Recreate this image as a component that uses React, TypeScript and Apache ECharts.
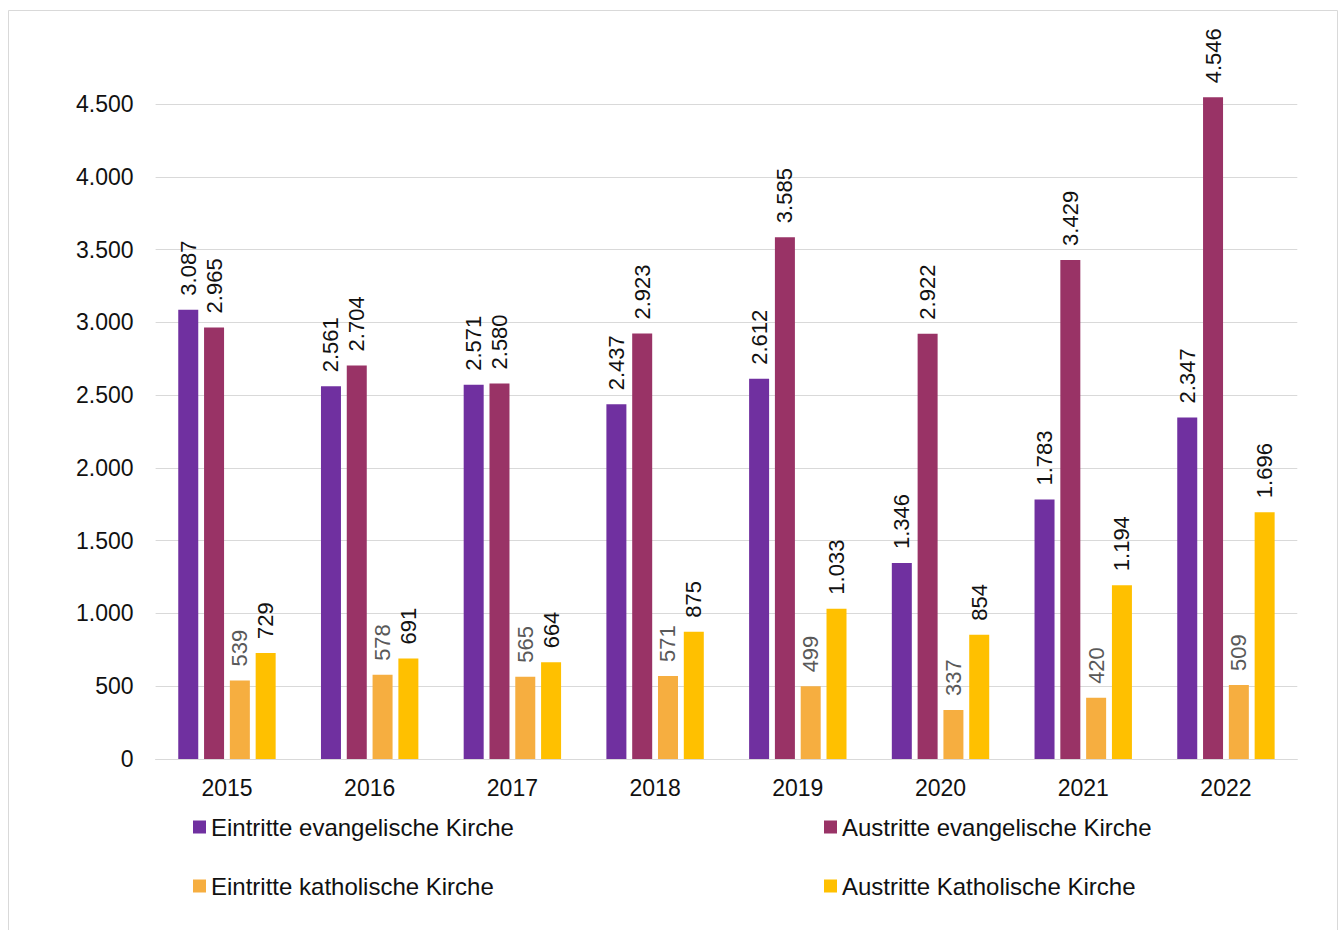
import React, { useEffect, useRef } from "react";
import * as echarts from "echarts";

// Kircheneintritte und -austritte nach Jahr
const years = ["2015", "2016", "2017", "2018", "2019", "2020", "2021", "2022"];
const eintritteEv = [3087, 2561, 2571, 2437, 2612, 1346, 1783, 2347];
const austritteEv = [2965, 2704, 2580, 2923, 3585, 2922, 3429, 4546];
const eintritteKath = [539, 578, 565, 571, 499, 337, 420, 509];
const austritteKath = [729, 691, 664, 875, 1033, 854, 1194, 1696];

const seriesNames = [
  "Eintritte evangelische Kirche",
  "Austritte evangelische Kirche",
  "Eintritte katholische Kirche",
  "Austritte Katholische Kirche",
];
const seriesColors = ["#7030A0", "#993366", "#F6AE40", "#FFC000"];
const labelColors = ["#111111", "#111111", "#595959", "#111111"];

const FONT = "'Liberation Sans', Arial, Helvetica, sans-serif";

// Tausendertrennzeichen mit Punkt
const fmt = (v: number) => {
  const s = Math.round(v).toString();
  return s.replace(/\B(?=(\d{3})+(?!\d))/g, ".");
};

export default function App() {
  const ref = useRef<HTMLDivElement>(null);

  useEffect(() => {
    if (!ref.current) return;
    const chart = echarts.init(ref.current, undefined, { renderer: "svg" });
    const values = [eintritteEv, austritteEv, eintritteKath, austritteKath];

    const legendPos = [
      { left: 193, top: 815 },
      { left: 824, top: 815 },
      { left: 193, top: 874 },
      { left: 824, top: 874 },
    ];

    chart.setOption({
      animation: false,
      backgroundColor: "#ffffff",
      textStyle: { fontFamily: FONT },
      graphic: [
        {
          type: "rect",
          shape: { x: 8.5, y: 10.5, width: 1329, height: 940 },
          style: { fill: "none", stroke: "#d9d9d9", lineWidth: 1 },
          silent: true,
        },
      ],
      grid: { left: 155.6, right: 43.7, top: 104, bottom: 171, containLabel: false },
      legend: seriesNames.map((name, i) => ({
        data: [name],
        left: legendPos[i].left,
        top: legendPos[i].top,
        padding: 0,
        icon: "rect",
        itemWidth: 13,
        itemHeight: 13,
        selectedMode: false,
        textStyle: { fontSize: 24, color: "#111111", fontFamily: FONT },
      })),
      xAxis: {
        type: "category",
        data: years,
        axisLine: { lineStyle: { color: "#d9d9d9", width: 1 } },
        axisTick: { show: false },
        axisLabel: { fontSize: 23, color: "#111111", margin: 17, fontFamily: FONT },
      },
      yAxis: {
        type: "value",
        min: 0,
        max: 4500,
        interval: 500,
        axisLine: { show: false },
        axisTick: { show: false },
        splitLine: { lineStyle: { color: "#d9d9d9", width: 1 } },
        axisLabel: {
          fontSize: 23,
          color: "#111111",
          margin: 22,
          fontFamily: FONT,
          formatter: (v: number) => fmt(v),
        },
      },
      series: seriesNames.map((name, i) => ({
        name,
        type: "bar",
        data: values[i],
        barWidth: 20,
        barGap: "29%",
        clip: false,
        itemStyle: { color: seriesColors[i] },
        label: {
          show: true,
          position: "top",
          rotate: 90,
          align: "left",
          verticalAlign: "middle",
          distance: 14,
          fontSize: 22,
          color: labelColors[i],
          fontFamily: FONT,
          formatter: (p: any) => fmt(p.value),
        },
      })),
    });

    return () => chart.dispose();
  }, []);

  return (
    <div
      ref={ref}
      style={{ position: "fixed", left: 0, top: 0, width: 1341, height: 930 }}
    />
  );
}
